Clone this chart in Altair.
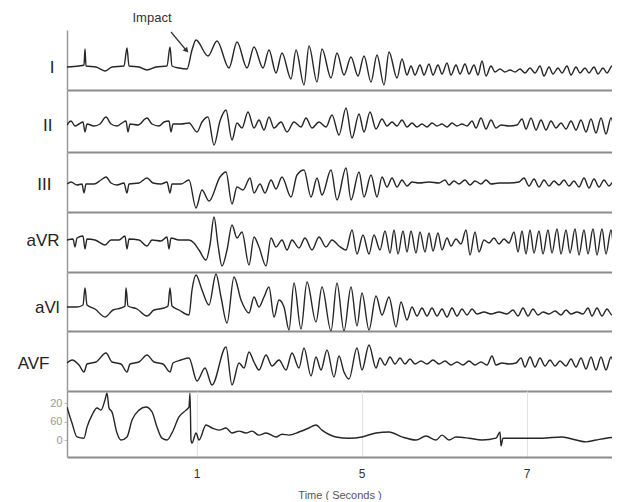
import altair as alt
import pandas as pd

FS = 82.5  # samples per second of the digitised strip; sample 0 is t = 0 s

# (sample index, amplitude) pairs (amplitude in 0.1 mV)
LEAD_I = [(-47,0),(-35,1),(-30,2),(-29,18),(-28,1),(-18,0),(-9,-4),(-2,0),(10,1),(13,19),(15,1),(25,0),(33,-3),(42,0),(53,1),(56,20),(58,1),(65,-1),(73,-2),(78,17),(82,27),
          (94,11),(103,26),(115,-1),(123,25),(133,-1),(140,20),(149,-1),(155,17),(162,-6),(168,14),(177,-12),(182,17),(190,-18),(195,21),(203,-15),(208,18),(217,-11),(223,14),(230,-8),(237,10),(244,-9),(250,11),(257,-15),(263,12),(270,-18),(275,15),(283,-11),(288,8),(293,-8),
          (297,1),(301,-8),(306,2),(310,-8),(315,3),(319,-8),(324,2),(328,-7),(333,4),(337,-8),(342,2),(346,-7),(351,3),(355,-7),(360,2),(364,-8),(368,6),(372,-9),(377,1),(381,-5),(386,-2),(391,-5),(396,-3),(401,-5),(406,-2),(411,-6),(416,-1),(421,-6),(426,1),(430,-9),(435,0),(439,-7),(444,-1),(448,-6),(453,1),(457,-8),(462,0),(466,-6),(471,-1),(475,-6),(480,0),(484,-7),(489,-1),(493,-6),(498,1),(502,-7),(505,-3)]

LEAD_II = [(-47,0),(-43,4),(-39,-1),(-35,1),(-31,3),(-29,-7),(-27,1),(-20,-1),(-14,1),(-8,8),(-3,1),(3,-1),(8,2),(12,4),(14,-7),(16,1),(24,0),(33,7),(38,1),(45,-1),(50,3),(55,4),(57,-7),(59,1),(67,1),(75,2),
           (83,-7),(88,3),(94,8),(100,-20),(106,4),(112,15),(118,-15),(123,2),(128,-3),(134,13),(140,-3),(145,5),(150,-5),(155,8),(160,-3),(167,3),(173,-7),(180,3),(187,-2),(192,7),(198,-3),(205,3),(212,-2),(218,10),(225,-10),(232,17),(238,-13),(245,11),(250,-7),(256,13),(262,-4),(268,6),
           (273,-1),(278,3),(283,-1),(288,5),(293,-2),(298,2),(303,-2),(308,1),(313,-2),(318,2),(323,-1),(328,1),(333,-2),(338,2),(343,-1),(348,1),(353,-1),(358,4),(362,-3),(367,7),(372,-4),(377,5),(382,-3),(387,0),(395,-1),(403,0),(408,6),(412,-4),(417,7),(422,-5),(427,5),(432,-5),(437,4),(442,-3),(447,2),(452,-4),(457,4),(462,-5),(467,5),(472,-7),(477,6),(482,-8),(487,7),(492,-9),(497,7),(502,-8),(505,1)]

LEAD_III = [(-47,0),(-43,2),(-37,-1),(-32,0),(-30,-9),(-28,0),(-20,0),(-13,4),(-8,7),(-3,1),(3,-1),(10,1),(13,-9),(15,0),(25,1),(33,6),(39,1),(47,0),(53,2),(56,-9),(58,0),(67,0),(75,4),
            (82,-24),(88,-6),(95,-17),(106,7),(112,12),(118,-20),(123,-3),(129,-6),(136,6),(140,-9),(146,0),(151,-9),(157,4),(162,-5),(168,7),(177,-13),(183,9),(190,14),(197,-13),(203,6),(208,-11),(217,14),(223,-16),(232,16),(237,-16),(245,12),(250,-13),(257,9),(263,-13),(268,7),
            (273,-3),(278,6),(283,-3),(288,4),(293,-2),(298,2),(305,1),(315,2),(325,1),(331,4),(335,-1),(340,3),(345,0),(351,4),(356,-1),(361,3),(367,0),(372,4),(377,0),(385,1),(395,1),(405,2),(410,6),(415,-2),(420,5),(425,-3),(430,4),(435,-2),(440,3),(445,-1),(450,4),(455,-2),(460,3),(465,-3),(470,6),(475,-4),(480,5),(485,-3),(490,4),(495,-2),(500,3),(505,0)]

LEAD_AVR = [(-47,0),(-41,1),(-39,-7),(-37,2),(-31,4),(-29,-9),(-27,1),(-19,0),(-9,-5),(-3,0),(5,0),(11,4),(13,-9),(15,1),(25,0),(33,-6),(38,0),(47,-1),(53,3),(55,-9),(57,2),(65,0),(75,0),
            (80,-3),(85,-10),(92,-20),(96,-5),(100,23),(104,-5),(108,-26),(113,-10),(118,15),(123,2),(128,8),(135,-25),(140,3),(145,-7),(152,-26),(157,2),(162,-7),(168,0),(173,-10),(178,0),(185,-8),(191,2),(198,-10),(205,3),(212,-7),(218,0),(225,-6),(232,-10),(238,10),(243,-14),(249,5),(255,-14),(260,5),(266,-10),
            (271,9),(276,-13),(280,10),(284,-14),(289,9),(293,-12),(297,9),(302,-13),(306,8),(311,-12),(315,7),(319,-11),(324,7),(328,-10),(333,2),(337,-6),(342,1),(347,-4),(352,10),(356,-15),(361,8),(365,-12),(370,0),(375,-3),(380,2),(385,-4),(390,1),(395,-3),
            (400,8),(404,-12),(408,9),(412,-14),(416,10),(420,-13),(425,9),(429,-14),(434,10),(438,-13),(443,11),(447,-14),(452,10),(456,-13),(461,11),(465,-15),(470,10),(474,-14),(479,11),(483,-15),(488,11),(492,-14),(497,10),(501,-16),(505,2)]

LEAD_AVL = [(-47,0),(-37,0),(-31,2),(-29,19),(-27,2),(-19,-2),(-9,-10),(-1,-3),(7,-1),(11,1),(12,19),(14,1),(23,-2),(33,-9),(40,-3),(50,-1),(54,1),(56,19),(58,1),(65,-3),(75,-8),
            (78,17),(82,32),(88,17),(95,2),(102,33),(107,10),(113,-16),(120,30),(127,7),(135,-6),(140,10),(145,0),(150,10),(155,20),(160,-10),(165,7),(170,0),(175,-23),(180,24),(187,-22),(193,25),(202,-15),(208,20),(217,-24),(223,24),(230,-24),(237,20),(243,-19),(248,14),(255,-23),(262,11),(268,-8),(275,10),(282,-20),(287,5),(293,-13),
            (298,0),(303,-9),(308,-1),(313,-9),(318,-1),(323,-9),(328,-2),(333,-10),(338,-1),(343,-9),(348,-2),(353,-8),(358,-2),(363,-7),(370,-5),(377,-7),(385,-5),(393,-7),(399,-3),(404,-9),(409,-1),(414,-9),(419,-2),(424,-8),(429,-5),(435,-7),(441,-4),(447,-8),(452,-3),(457,-7),(463,-5),(469,-7),(474,-1),(478,-9),(483,-1),(488,-9),(493,-2),(498,-8),(505,-5)]

LEAD_AVF = [(-47,0),(-42,3),(-35,-2),(-30,-9),(-27,-1),(-18,1),(-8,10),(-2,1),(7,-1),(13,-9),(16,-1),(25,1),(33,8),(40,1),(49,-1),(56,-9),(59,0),(67,3),(75,5),
            (83,-18),(91,-5),(98,-22),(112,16),(118,-22),(125,0),(130,-5),(135,11),(140,1),(145,-7),(152,8),(158,-3),(165,3),(172,-7),(178,10),(185,-5),(190,15),(197,-13),(202,6),(207,-7),(213,13),(220,-14),(225,7),(230,-9),(235,-16),(243,15),(248,-7),(255,18),(262,-5),
            (266,5),(271,-2),(276,6),(281,-1),(286,5),(291,-1),(296,4),(301,-1),(307,2),(313,-1),(319,3),(325,-1),(331,2),(337,-2),(343,1),(349,-2),(355,2),(361,-2),(367,1),(373,-2),(378,7),(382,-2),(388,0),(395,-1),(402,0),
            (407,5),(411,-4),(416,6),(421,-4),(426,5),(431,-3),(436,3),(441,-3),(446,2),(452,-3),(457,4),(462,-4),(467,5),(472,-6),(477,6),(482,-7),(487,6),(492,-7),(497,6),(502,-6),(505,1)]

# arterial pressure trace, (sample index, mmHg)
PRESSURE = [(-47,107),(-42,55),(-37,10),(-30,6),(-27,42),(-22,81),(-17,104),(-13,97),(-9,130),(-7,152),(-5,104),(-2,91),(3,23),(7,0),(13,10),(18,65),(25,97),(32,107),(38,91),(43,42),(48,6),(53,0),(58,23),(65,75),(72,97),(75,107),(76,152),(77,0),(78,-10),(82,23),(85,0),
            (92,49),(98,39),(105,32),(112,39),(118,23),(125,29),(132,23),(138,29),(145,16),(152,23),(162,10),(168,19),(175,16),(185,26),(195,39),(202,49),(208,32),(222,10),(235,6),(248,10),(262,23),(275,26),(288,10),(302,0),(312,13),(322,0),(328,16),(335,0),(342,10),(355,6),(368,0),(382,6),(386,26),(387,-19),(389,6),(408,6),(428,6),(448,10),(462,0),(472,-6),(482,0),(492,6),(505,10)]

TIME_TICKS = [1, 3, 5]
TIME_TICK_TEXT = ["1", "5", "7"]
PRESSURE_TICKS = [0, 60, 120]
PRESSURE_TICK_TEXT = ["0", "60", "20"]

IMPACT_LABEL = "Impact"
IMPACT_TEXT_AT = [(38, 49)]
IMPACT_ARROW = [(57, 35), (72, 17)]

PLOT_W = 545
X_DOMAIN = [-47 / FS, (-47 + PLOT_W) / FS]
INK = "#262626"
RULE = "#8c8c8c"


def frame(pairs, cols=("n", "v")):
    df = pd.DataFrame(pairs, columns=list(cols))
    df["t"] = df["n"] / FS
    return df


def expr_map(values, texts):
    e = "datum.label"
    for val, txt in zip(values, texts):
        e = f"datum.value == {val} ? '{txt}' : ({e})"
    return e


def x_enc(bottom=False):
    if bottom:
        ax = alt.Axis(values=TIME_TICKS, labelExpr=expr_map(TIME_TICKS, TIME_TICK_TEXT),
                      ticks=False, labelPadding=11, labelFontSize=12, labelColor="#333",
                      labelFont="Liberation Sans", title="Time ( Seconds )", titleFontSize=11,
                      titleFontWeight="normal", titleColor="#555", titleFont="Liberation Sans",
                      titlePadding=10, domainColor=RULE, domainWidth=2, grid=True,
                      gridColor="#e2e2e2", gridWidth=1)
    else:
        ax = alt.Axis(labels=False, ticks=False, title=None, domainColor=RULE,
                      domainWidth=2, grid=False)
    return alt.X("t:Q", scale=alt.Scale(domain=X_DOMAIN, nice=False, zero=False), axis=ax)


def y_enc(name, dom, tx, ty):
    ax = alt.Axis(title=name, titleAngle=0, titleAlign="right", titleBaseline="middle",
                  titleX=tx, titleY=ty, titleFontSize=17, titleFont="Liberation Sans",
                  titleFontWeight="normal", titleColor="#222", labels=False, ticks=False,
                  domainColor="#9a9a9a", domainWidth=1.5, grid=False)
    return alt.Y("v:Q", scale=alt.Scale(domain=dom, nice=False, zero=False), axis=ax)


def trace(df, xe, ye):
    return alt.Chart(df).mark_line(color=INK, strokeWidth=1.4, interpolate="monotone",
                                   clip=True).encode(x=xe, y=ye)


LEADS = [
    ("I", LEAD_I, [-23, 37], 60, -13, 37),
    ("II", LEAD_II, [-27, 35], 62, -15, 35),
    ("III", LEAD_III, [-28, 32], 60, -16, 32),
    ("aVR", LEAD_AVR, [-32, 28], 60, -8, 28),
    ("aVl", LEAD_AVL, [-24, 35], 59, -8, 35),
    ("AVF", LEAD_AVF, [-28, 32], 60, -18, 32),
]

panels = []
for name, pairs, dom, h, tx, ty in LEADS:
    xe = x_enc()
    ye = y_enc(name, dom, tx, ty)
    ch = trace(frame(pairs), xe, ye)
    if name == "I":
        txt = alt.Chart(frame(IMPACT_TEXT_AT).assign(label=IMPACT_LABEL)).mark_text(
            fontSize=13, font="Liberation Sans", color="#333", align="center",
            baseline="middle").encode(x=xe, y=ye, text="label:N")
        arrow = alt.Chart(frame(IMPACT_ARROW)).mark_line(color="#333", strokeWidth=1.2).encode(x=xe, y=ye)
        head = alt.Chart(frame(IMPACT_ARROW[-1:])).mark_point(
            shape="triangle", angle=140, size=35, filled=True, color="#333", opacity=1).encode(x=xe, y=ye)
        ch = alt.layer(ch, arrow, head, txt)
    panels.append(ch.properties(width=PLOT_W, height=h))

p_df = frame(PRESSURE)
p_y = alt.Y("v:Q", scale=alt.Scale(domain=[-55, 159], nice=False, zero=False),
            axis=alt.Axis(values=PRESSURE_TICKS,
                          labelExpr=expr_map(PRESSURE_TICKS, PRESSURE_TICK_TEXT),
                          labelFontSize=11, labelColor="#9a9a9a", labelFont="Liberation Sans",
                          ticks=True, tickSize=3, tickColor="#bbbbbb", labelPadding=2,
                          title=None, domainColor="#9a9a9a", domainWidth=1.5, grid=False))
panels.append(trace(p_df, x_enc(bottom=True), p_y).properties(width=PLOT_W, height=66))

chart = alt.vconcat(*panels, spacing=0, bounds="flush").resolve_scale(
    x="independent", y="independent"
).properties(
    padding={"left": 9, "top": 4, "right": 0, "bottom": 0},
    background="white",
).configure_view(stroke=None)

chart.save("out.html", embed_options={"renderer": "svg", "actions": False})
